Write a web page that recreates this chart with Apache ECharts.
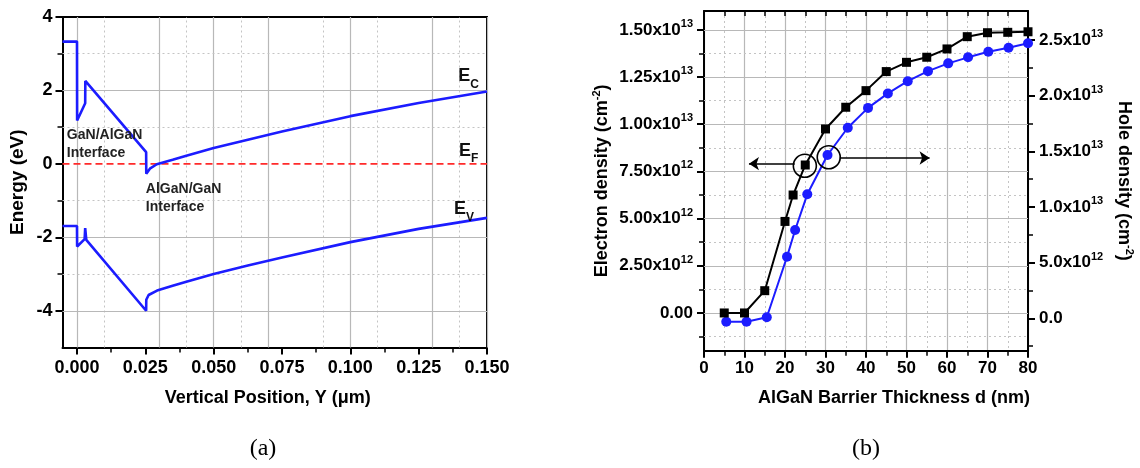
<!DOCTYPE html>
<html><head><meta charset="utf-8">
<script src="https://cdn.jsdelivr.net/npm/echarts@6/dist/echarts.min.js"></script>
<style>html,body{margin:0;padding:0;background:#fff}#c{width:1140px;height:468px}</style>
</head><body><div id="c"></div>
<script>
// ---------- Panel (a): band diagram ----------
const ecX = [-0.0053, 0, 0.00005, 0.003, 0.00305, 0.0253, 0.02535, 0.0268, 0.0292, 0.035, 0.04, 0.05, 0.0625, 0.075, 0.1, 0.125, 0.15];
const ecY = [3.33, 3.33, 1.18, 1.65, 2.26, 0.32, -0.27, -0.12, -0.01, 0.11, 0.22, 0.43, 0.66, 0.88, 1.30, 1.66, 1.97];
const evX = [-0.0053, 0, 0.00005, 0.0028, 0.003, 0.0034, 0.0253, 0.02535, 0.0262, 0.0293, 0.035, 0.04, 0.05, 0.0625, 0.075, 0.1, 0.125, 0.15];
const evY = [-1.69, -1.69, -2.25, -2.05, -1.75, -2.07, -4.0, -3.70, -3.57, -3.45, -3.32, -3.21, -3.00, -2.77, -2.55, -2.13, -1.77, -1.47];
const efX = [-0.0053, 0.15];
const efY = [0, 0];
const aXRange = [-0.0053, 0.15];
const aYRange = [-5, 4];
const aTickX = [0, 0.025, 0.05, 0.075, 0.1, 0.125, 0.15];
const aMinorX = [0.0125, 0.0375, 0.0625, 0.0875, 0.1125, 0.1375];
const aTickY = [-4, -2, 0, 2, 4];
const aMinorY = [-3, -1, 1, 3];

// ---------- Panel (b): densities vs thickness ----------
const thickness = [5, 10, 15, 20, 22, 25, 30, 35, 40, 45, 50, 55, 60, 65, 70, 75, 80];
const electron = [0, 0, 1.18e12, 4.85e12, 6.25e12, 7.84e12, 9.75e12, 1.09e13, 1.178e13, 1.279e13, 1.328e13, 1.355e13, 1.399e13, 1.464e13, 1.485e13, 1.487e13, 1.49e13];
const holeX = [5.5, 10.5, 15.5, 20.5, 22.5, 25.5, 30.5, 35.5, 40.5, 45.4, 50.3, 55.3, 60.3, 65.2, 70.2, 75.2, 80];
const hole = [-0.3e12, -0.3e12, 0.1e12, 5.54e12, 7.94e12, 1.114e13, 1.467e13, 1.712e13, 1.89e13, 2.02e13, 2.13e13, 2.22e13, 2.29e13, 2.344e13, 2.394e13, 2.43e13, 2.47e13];
const eRange = [-2e12, 1.6e13];
const hRange = [-2.9e12, 2.76e13];
const eTicks = [0, 2.5e12, 5e12, 7.5e12, 1e13, 1.25e13, 1.5e13];
const eMinor = [-1.25e12, 1.25e12, 3.75e12, 6.25e12, 8.75e12, 1.125e13, 1.375e13];
const hTicks = [0, 5e12, 1e13, 1.5e13, 2e13, 2.5e13];
const hMinor = [-2.5e12, 2.5e12, 7.5e12, 1.25e13, 1.75e13, 2.25e13];
// annotation anchors (data units of thickness / electron axis)
const markCircles = [[24.9, 7.8e12], [30.8, 8.25e12]];
const arrowLeft = [[22.4, 7.91e12], [11.1, 7.91e12]];
const arrowRight = [[33.5, 8.21e12], [55.7, 8.21e12]];

const FONT = '"Liberation Sans", Arial, Helvetica, sans-serif';
const zip = (a, b) => a.map((v, i) => [v, b[i]]);
const majorGrid = {color: '#b8b8b8', width: 1.2, type: 'solid'};
const minorGrid = {color: '#c4c4c4', width: 1, type: [2, 3]};
const lbl = {color: '#000', fontFamily: FONT, fontWeight: 'bold', fontSize: 17};
const black2 = {color: '#000', width: 2};

function sci(v, dec) {
  if (Math.abs(v) < 1) return '{m|' + (0).toFixed(dec) + '}';
  const e = Math.floor(Math.log10(v) + 1e-9);
  const m = v / Math.pow(10, e);
  return '{m|' + m.toFixed(dec) + 'x10}{s|' + e + '}';
}
const sciRich = {
  m: {fontSize: 17, fontWeight: 'bold', fontFamily: FONT, color: '#000'},
  s: {fontSize: 11, fontWeight: 'bold', fontFamily: FONT, color: '#000', padding: [0, 0, 12, 0]}
};
const nameRich = {
  n: {fontSize: 18, fontWeight: 'bold', fontFamily: FONT, color: '#000'},
  s: {fontSize: 11, fontWeight: 'bold', fontFamily: FONT, color: '#000', padding: [0, 0, 12, 0]}
};

function lineAxis(grid, pos, range) {
  return {gridIndex: grid, type: 'value', position: pos, min: range[0], max: range[1],
    axisLine: {show: true, onZero: false, lineStyle: black2}, axisTick: {show: false},
    axisLabel: {show: false}, splitLine: {show: false}};
}
function minorAxis(grid, pos, range, vals, len) {
  return {gridIndex: grid, type: 'value', position: pos, min: range[0], max: range[1],
    axisLine: {show: false, onZero: false},
    axisTick: {show: true, customValues: vals, length: len, lineStyle: {color: '#000', width: 1.5}},
    axisLabel: {show: false}, splitLine: {show: false}};
}

const option = {
  animation: false,
  backgroundColor: '#fff',
  grid: [
    {left: 62.5, top: 17, width: 424.5, height: 330.5},
    {left: 704, top: 11, width: 324, height: 339.7}
  ],
  xAxis: [
    { gridIndex: 0, type: 'value', position: 'bottom', min: aXRange[0], max: aXRange[1],
      axisLine: {show: true, onZero: false, lineStyle: black2},
      axisTick: {show: true, customValues: aTickX, length: 7, lineStyle: black2},
      axisLabel: {customValues: aTickX, formatter: v => v.toFixed(3), margin: 12, ...lbl, fontSize: 18},
      splitLine: {show: false},
      name: 'Vertical Position, Y (μm)', nameLocation: 'middle', nameGap: 42,
      nameTextStyle: {color: '#000', fontFamily: FONT, fontWeight: 'bold', fontSize: 18, padding: [0, 14, 0, 0]}
    },
    minorAxis(0, 'bottom', aXRange, aMinorX, 5),
    lineAxis(0, 'top', aXRange),
    { gridIndex: 1, type: 'value', position: 'bottom', min: 0, max: 80, interval: 10,
      axisLine: {show: true, onZero: false, lineStyle: black2},
      axisTick: {show: true, length: 7, lineStyle: black2},
      minorTick: {show: true, splitNumber: 2, length: 5, lineStyle: {color: '#000', width: 1.5}},
      axisLabel: {margin: 9, ...lbl},
      splitLine: {show: true, lineStyle: majorGrid},
      minorSplitLine: {show: true, lineStyle: minorGrid},
      name: 'AlGaN Barrier Thickness d (nm)', nameLocation: 'middle', nameGap: 38,
      nameTextStyle: {color: '#000', fontFamily: FONT, fontWeight: 'bold', fontSize: 18, padding: [0, 0, 0, 56]}
    },
    { gridIndex: 1, type: 'value', position: 'top', min: 0, max: 80, interval: 5,
      axisLine: {show: true, onZero: false, lineStyle: black2},
      axisTick: {show: true, inside: true, length: 5, lineStyle: {color: '#000', width: 1.5}},
      axisLabel: {show: false}, splitLine: {show: false}
    }
  ],
  yAxis: [
    { gridIndex: 0, type: 'value', position: 'left', min: aYRange[0], max: aYRange[1],
      axisLine: {show: true, onZero: false, lineStyle: black2},
      axisTick: {show: true, customValues: aTickY, length: 7, lineStyle: black2},
      axisLabel: {customValues: aTickY, margin: 10, ...lbl, fontSize: 18},
      splitLine: {show: false},
      name: 'Energy (eV)', nameLocation: 'middle', nameGap: 35,
      nameTextStyle: {color: '#000', fontFamily: FONT, fontWeight: 'bold', fontSize: 19}
    },
    minorAxis(0, 'left', aYRange, aMinorY, 5),
    lineAxis(0, 'right', aYRange),
    { gridIndex: 1, type: 'value', position: 'left', min: eRange[0], max: eRange[1],
      axisLine: {show: true, onZero: false, lineStyle: black2},
      axisTick: {show: true, customValues: eTicks, length: 7, lineStyle: black2},
      axisLabel: {customValues: eTicks, margin: 11, formatter: v => sci(v, 2), rich: sciRich},
      splitLine: {show: false},
      name: '{n|Electron density (cm}{s|-2}{n|)}', nameLocation: 'middle', nameGap: 90,
      nameTextStyle: {rich: nameRich}
    },
    minorAxis(1, 'left', eRange, eMinor, 5),
    { gridIndex: 1, type: 'value', position: 'right', min: hRange[0], max: hRange[1],
      axisLine: {show: true, onZero: false, lineStyle: black2},
      axisTick: {show: true, customValues: hTicks, length: 7, lineStyle: black2},
      axisLabel: {customValues: hTicks, margin: 11, formatter: v => sci(v, 1), rich: sciRich},
      splitLine: {show: false},
      name: '{n|Hole density (cm}{s|-2}{n|)}', nameLocation: 'middle', nameGap: 84, nameRotate: -90,
      nameTextStyle: {rich: nameRich, padding: [0, 0, 0, 0]}
    },
    minorAxis(1, 'right', hRange, hMinor, 5)
  ],
  series: [
    { type: 'line', xAxisIndex: 0, yAxisIndex: 0, data: zip(efX, efY), showSymbol: false, silent: true,
      lineStyle: {opacity: 0}, z: 1,
      markLine: { silent: true, symbol: ['none', 'none'], z: 1, label: {show: false}, animation: false,
        data: [].concat(
          aTickX.map(v => ({xAxis: v, lineStyle: majorGrid})),
          aMinorX.map(v => ({xAxis: v, lineStyle: minorGrid})),
          aTickY.filter(v => v !== 0 && v !== 4).map(v => ({yAxis: v, lineStyle: majorGrid})),
          aMinorY.map(v => ({yAxis: v, lineStyle: minorGrid}))
        ) }
    },
    { name: 'EF', type: 'line', xAxisIndex: 0, yAxisIndex: 0, data: zip(efX, efY), showSymbol: false, z: 3,
      lineStyle: {color: '#ff2a2a', width: 1.8, type: [7, 4]} },
    { name: 'EC', type: 'line', xAxisIndex: 0, yAxisIndex: 0, data: zip(ecX, ecY), showSymbol: false, z: 4,
      lineStyle: {color: '#1c1cff', width: 2.6} },
    { name: 'EV', type: 'line', xAxisIndex: 0, yAxisIndex: 0, data: zip(evX, evY), showSymbol: false, z: 4,
      lineStyle: {color: '#1c1cff', width: 2.6} },
    { type: 'line', xAxisIndex: 3, yAxisIndex: 3, data: zip(thickness, electron), showSymbol: false, silent: true,
      lineStyle: {opacity: 0}, z: 1,
      markLine: { silent: true, symbol: ['none', 'none'], z: 1, label: {show: false}, animation: false,
        data: [].concat(
          eTicks.map(v => ({yAxis: v, lineStyle: majorGrid})),
          eMinor.map(v => ({yAxis: v, lineStyle: minorGrid}))
        ) }
    },
    { name: 'Hole', type: 'line', xAxisIndex: 3, yAxisIndex: 5, data: zip(holeX, hole), z: 4,
      symbol: 'circle', symbolSize: 10, itemStyle: {color: '#1c1cff'},
      lineStyle: {color: '#1c1cff', width: 2} },
    { name: 'Electron', type: 'line', xAxisIndex: 3, yAxisIndex: 3, data: zip(thickness, electron), z: 5,
      symbol: 'rect', symbolSize: 9, itemStyle: {color: '#000'},
      lineStyle: {color: '#000', width: 2},
      markPoint: { silent: true, symbol: 'circle', symbolSize: 23, animation: false,
        itemStyle: {color: 'rgba(0,0,0,0)', borderColor: '#000', borderWidth: 1.6},
        label: {show: false},
        data: markCircles.map(c => ({coord: c})) },
      markLine: { silent: true, symbol: ['none', 'arrow'], symbolSize: 10, animation: false,
        label: {show: false}, lineStyle: {color: '#000', width: 1.5, type: 'solid'},
        itemStyle: {color: '#000'},
        data: [
          [{coord: arrowLeft[0]}, {coord: arrowLeft[1]}],
          [{coord: arrowRight[0]}, {coord: arrowRight[1]}]
        ] }
    }
  ]
};

const chart = echarts.init(document.getElementById('c'));
chart.setOption(option);

// Text annotations placed from data coordinates of panel (a)
const textRich = {
  e: {fontSize: 18, fontWeight: 'bold', fontFamily: FONT, fill: '#111'},
  sub: {fontSize: 12, fontWeight: 'bold', fontFamily: FONT, fill: '#111', padding: [17, 0, 0, 0]},
  t: {fontSize: 14, fontWeight: 'bold', fontFamily: FONT, fill: '#222', lineHeight: 18}
};
const aNotes = [
  {at: [0.1395, 2.39], text: '{e|E}{sub|C}'},
  {at: [0.1398, 0.36], text: '{e|E}{sub|F}'},
  {at: [0.1379, -1.23], text: '{e|E}{sub|V}'},
  {at: [-0.0037, 0.54], text: '{t|GaN/AlGaN}\n{t|Interface}'},
  {at: [0.0252, -0.94], text: '{t|AlGaN/GaN}\n{t|Interface}'}
];
const graphics = aNotes.map(n => {
  const p = chart.convertToPixel({xAxisIndex: 0, yAxisIndex: 0}, n.at);
  return {type: 'text', x: p[0], y: p[1], silent: true, z: 10,
    style: {text: n.text, rich: textRich, align: 'left', verticalAlign: 'middle'}};
});
graphics.push({type: 'text', x: 263, y: 449, z: 10, silent: true,
  style: {text: '(a)', fontSize: 24, fontFamily: '"Liberation Serif", "Times New Roman", serif', fill: '#000', align: 'center', verticalAlign: 'middle'}});
graphics.push({type: 'text', x: 866, y: 449, z: 10, silent: true,
  style: {text: '(b)', fontSize: 24, fontFamily: '"Liberation Serif", "Times New Roman", serif', fill: '#000', align: 'center', verticalAlign: 'middle'}});
chart.setOption({graphic: graphics});
</script>
</body></html>
